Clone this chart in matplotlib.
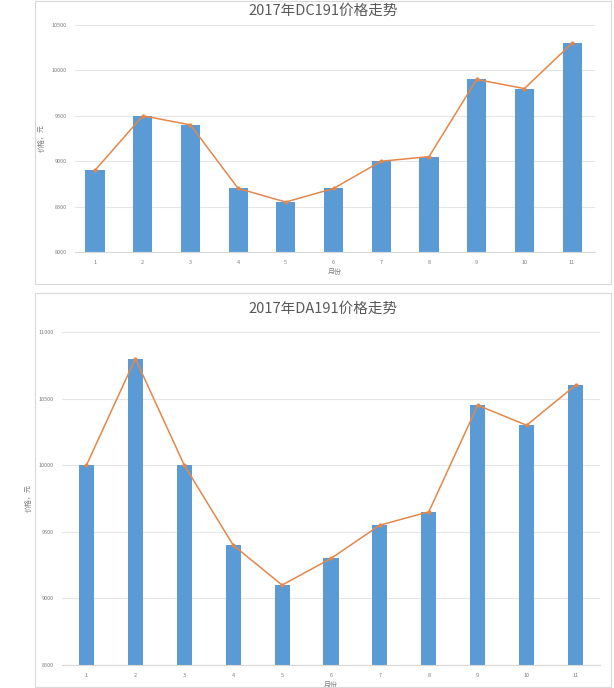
import matplotlib
matplotlib.use("Agg")
import matplotlib.pyplot as plt
from matplotlib.patches import Rectangle

plt.rcParams['font.family'] = ['Noto Sans CJK SC', 'DejaVu Sans']

months = [1, 2, 3, 4, 5, 6, 7, 8, 9, 10, 11]
dc191 = [8900, 9500, 9400, 8700, 8550, 8700, 9000, 9050, 9900, 9800, 10300]
da191 = [10000, 10800, 10000, 9400, 9100, 9300, 9550, 9650, 10450, 10300, 10600]
titles = ["2017年DC191价格走势", "2017年DA191价格走势"]
ylabel = "价格，元"
xlabel = "月份"
dc_ticks = [8000, 8500, 9000, 9500, 10000, 10500]
da_ticks = [8500, 9000, 9500, 10000, 10500, 11000]

W, H = 614, 688
fig = plt.figure(figsize=(W / 100, H / 100), dpi=100)
fig.patch.set_facecolor('white')

def fx(px):
    return px / W

def fy(py):
    return 1 - py / H

# panel borders
for (x0, y0, x1, y1) in [(35, 1, 611, 284), (35, 293, 611, 687)]:
    fig.patches.append(Rectangle((fx(x0), fy(y1)), fx(x1 - x0), (y1 - y0) / H,
                                 transform=fig.transFigure, fill=False,
                                 edgecolor='#D9D9D9', linewidth=0.8))

bar_color = '#5B9BD5'
line_color = '#E4874A'
grid_color = '#E6E6E6'
text_color = '#595959'

def make(ax, values, ticks, title, title_y, barw, xlim):
    ax.bar(months, values, width=barw, color=bar_color, zorder=2)
    ax.plot(months, values, color=line_color, linewidth=1.1, zorder=3,
            marker='o', markersize=2.0)
    ax.set_ylim(ticks[0], ticks[-1])
    ax.set_xlim(*xlim)
    ax.set_yticks(ticks)
    ax.set_yticklabels([str(t) for t in ticks])
    ax.set_xticks(months)
    ax.tick_params(axis='both', labelsize=4, colors='#7F7F7F', length=0, pad=6)
    ax.grid(axis='y', color=grid_color, linewidth=0.8, zorder=0)
    for s in ['top', 'right', 'left']:
        ax.spines[s].set_visible(False)
    ax.spines['bottom'].set_color('#D9D9D9')
    ax.spines['bottom'].set_linewidth(0.8)
    fig.text(fx(323), fy(title_y), title, ha='center', va='center',
             fontsize=10.5, color=text_color)
    ax.set_xlabel(xlabel, fontsize=5, color='#7F7F7F', labelpad=2)
    ax.set_ylabel(ylabel, fontsize=5, color='#7F7F7F', labelpad=4)
    return ax

ax1 = fig.add_axes([fx(75), fy(252), fx(595 - 75), (252 - 25) / H])
make(ax1, dc191, dc_ticks, titles[0], 11, 0.4, (0.58, 11.48))

ax2 = fig.add_axes([fx(62), fy(665), fx(600 - 62), (665 - 332) / H])
make(ax2, da191, da_ticks, titles[1], 309, 0.31, (0.5, 11.5))

fig.savefig('out.png', dpi=100)
